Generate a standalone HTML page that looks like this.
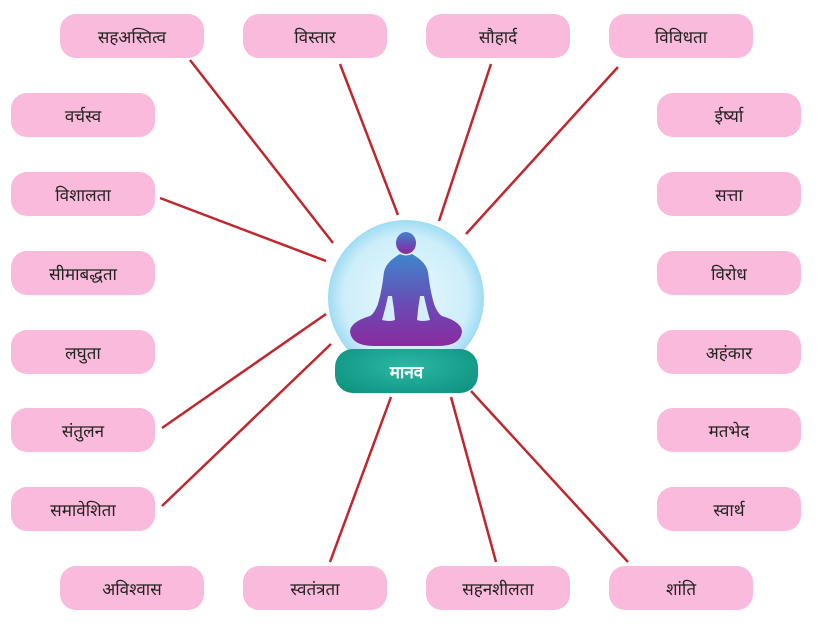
<!DOCTYPE html>
<html><head><meta charset="utf-8"><style>
body{margin:0;width:818px;height:627px;background:#fff;position:relative;overflow:hidden;font-family:"Liberation Serif","Noto Serif CJK SC","Noto Sans CJK SC",serif}
.p{position:absolute;width:144px;height:44px;border-radius:16px;background:#f9badb;color:#222;font-size:17px;display:flex;align-items:center;justify-content:center}
svg{position:absolute;left:0;top:0}
.b{position:absolute;left:335px;top:349px;width:143px;height:44px;border-radius:18px;background:radial-gradient(ellipse at 50% 40%,#2bb8a4,#0b8f7c);color:#fff;font-weight:bold;font-size:17px;display:flex;align-items:center;justify-content:center;font-family:"Liberation Sans",sans-serif}
</style></head><body>
<svg width="818" height="627">
<defs>
<radialGradient id="g" cx="50%" cy="50%" r="50%"><stop offset="0" stop-color="#eaf8fd"/><stop offset="0.8" stop-color="#cdeefa"/><stop offset="1" stop-color="#9fdcf3"/></radialGradient>
<linearGradient id="f" x1="0" y1="0" x2="0" y2="1"><stop offset="0" stop-color="#3d86cc"/><stop offset="0.55" stop-color="#6a4bb5"/><stop offset="1" stop-color="#8a2a9e"/></linearGradient>
</defs>
<g stroke="#c0272d" stroke-width="2.5">
<line x1="190" y1="60" x2="333" y2="243"/>
<line x1="340" y1="64" x2="398" y2="215"/>
<line x1="491" y1="64" x2="439" y2="221"/>
<line x1="618" y1="67" x2="466" y2="234"/>
<line x1="160" y1="198" x2="326" y2="261"/>
<line x1="162" y1="428" x2="326" y2="314"/>
<line x1="162" y1="506" x2="331" y2="344"/>
<line x1="330" y1="562" x2="391" y2="397"/>
<line x1="496" y1="562" x2="451" y2="397"/>
<line x1="628" y1="562" x2="471" y2="391"/>
</g>
<circle cx="406" cy="298" r="78" fill="url(#g)"/>
<g fill="url(#f)">
<ellipse cx="406" cy="243" rx="10" ry="11"/>
<path d="M400 254 Q406 257 412 254 Q426 262 428 272 Q430 290 434 304 Q438 314 442 316 Q462 322 462 332 Q460 346 438 346 L374 346 Q352 346 350 332 Q350 322 370 316 Q374 314 378 304 Q382 290 384 272 Q386 262 400 254 Z"/>
</g>
<g fill="#d4effa">
<path d="M388 296 Q385 310 382 320 Q390 322 395 320 Q394 308 392 296Z"/>
<path d="M424 296 Q427 310 430 320 Q422 322 417 320 Q418 308 420 296Z"/>
</g>
</svg>
<div class="b">मानव</div>
<div class="p" style="left:60px;top:14px">सहअस्तित्व</div>
<div class="p" style="left:243px;top:14px">विस्तार</div>
<div class="p" style="left:426px;top:14px">सौहार्द</div>
<div class="p" style="left:609px;top:14px">विविधता</div>
<div class="p" style="left:11px;top:93px">वर्चस्व</div>
<div class="p" style="left:11px;top:172px">विशालता</div>
<div class="p" style="left:11px;top:251px">सीमाबद्धता</div>
<div class="p" style="left:11px;top:330px">लघुता</div>
<div class="p" style="left:11px;top:408px">संतुलन</div>
<div class="p" style="left:11px;top:487px">समावेशिता</div>
<div class="p" style="left:657px;top:93px">ईर्ष्या</div>
<div class="p" style="left:657px;top:172px">सत्ता</div>
<div class="p" style="left:657px;top:251px">विरोध</div>
<div class="p" style="left:657px;top:330px">अहंकार</div>
<div class="p" style="left:657px;top:408px">मतभेद</div>
<div class="p" style="left:657px;top:487px">स्वार्थ</div>
<div class="p" style="left:60px;top:566px">अविश्वास</div>
<div class="p" style="left:243px;top:566px">स्वतंत्रता</div>
<div class="p" style="left:426px;top:566px">सहनशीलता</div>
<div class="p" style="left:609px;top:566px">शांति</div>
</body></html>
